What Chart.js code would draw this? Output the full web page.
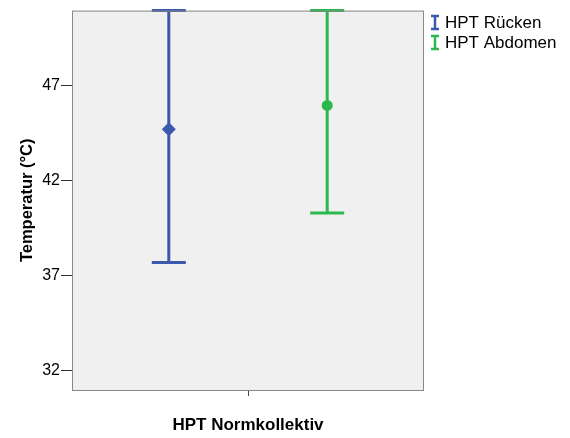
<!DOCTYPE html>
<html>
<head>
<meta charset="utf-8">
<script src="https://cdn.jsdelivr.net/npm/chart.js@4.4.0/dist/chart.umd.min.js"></script>
<style>
  html, body { margin: 0; padding: 0; background: #fff; }
</style>
</head>
<body>
<canvas id="chart" width="570" height="438"></canvas>
<script>
// data
const categories = ['HPT Normkollektiv'];
const seriesNames = ['HPT Rücken', 'HPT Abdomen'];
const meanValues = [44.7, 45.95];
const lowerValues = [37.7, 40.3];
const upperValues = [51.7, 51.6];   // run past the top of the axis
const yTicks = [32, 37, 42, 47];

const colors = ['#3d59ad', '#2cb84c'];
const markers = ['rectRot', 'circle'];
const FONT = 'Liberation Sans, Arial, sans-serif';

// error bars + mean markers, positioned on the grouped bar slots
const errorBars = {
    id: 'errorBars',
    afterDatasetsDraw(chart) {
        const ctx = chart.ctx;
        const y = chart.scales.y;
        const area = chart.chartArea;
        chart.data.datasets.forEach((ds, i) => {
            const meta = chart.getDatasetMeta(i);
            meta.data.forEach((bar, j) => {
                const x = bar.x;
                const yLo = y.getPixelForValue(Math.max(lowerValues[i], y.min));
                const yHi = y.getPixelForValue(Math.min(upperValues[i], y.max));
                const yMean = y.getPixelForValue(meanValues[i]);
                ctx.save();
                ctx.beginPath();
                ctx.rect(area.left, area.top - 2, area.right - area.left, area.bottom - area.top + 4);
                ctx.clip();
                ctx.strokeStyle = colors[i];
                ctx.lineWidth = 3;
                ctx.beginPath();
                ctx.moveTo(x, yLo);
                ctx.lineTo(x, yHi);
                ctx.moveTo(x - 17, yLo);
                ctx.lineTo(x + 17, yLo);
                ctx.moveTo(x - 17, yHi);
                ctx.lineTo(x + 17, yHi);
                ctx.stroke();
                ctx.fillStyle = colors[i];
                Chart.helpers.drawPoint(ctx, {
                    pointStyle: markers[i],
                    radius: markers[i] === 'rectRot' ? 7 : 5.5,
                    rotation: 0,
                    borderWidth: 0
                }, x, yMean);
                ctx.restore();
            });
        });
    }
};

// grey plot background, frame and the legend at the right
const frame = {
    id: 'frame',
    beforeDraw(chart) {
        const { ctx, chartArea: a } = chart;
        ctx.save();
        ctx.fillStyle = '#f0f0f0';
        ctx.fillRect(a.left, a.top, a.right - a.left, a.bottom - a.top);
        ctx.restore();
    },
    afterDraw(chart) {
        const { ctx, chartArea: a } = chart;
        ctx.save();
        ctx.strokeStyle = '#888888';
        ctx.lineWidth = 1;
        ctx.strokeRect(a.left + 0.5, a.top + 0.5, a.right - a.left - 1, a.bottom - a.top);

        // legend
        ctx.font = '17px ' + FONT;
        ctx.textBaseline = 'middle';
        seriesNames.forEach((name, i) => {
            const cy = 22.5 + i * 20;
            const cx = a.right + 11;
            ctx.strokeStyle = colors[i];
            ctx.lineWidth = 2.5;
            ctx.beginPath();
            ctx.moveTo(cx, cy - 6.5);
            ctx.lineTo(cx, cy + 6.5);
            ctx.moveTo(cx - 4, cy - 6.5);
            ctx.lineTo(cx + 4, cy - 6.5);
            ctx.moveTo(cx - 4, cy + 6.5);
            ctx.lineTo(cx + 4, cy + 6.5);
            ctx.stroke();
            ctx.fillStyle = '#000';
            ctx.fillText(name, cx + 10, cy + 1);
        });
        ctx.restore();
    }
};

const ctx = document.getElementById('chart').getContext('2d');
new Chart(ctx, {
    type: 'bar',
    data: {
        labels: categories,
        datasets: seriesNames.map((name, i) => ({
            label: name,
            data: [meanValues[i]],
            backgroundColor: 'rgba(0,0,0,0)',
            borderWidth: 0,
            categoryPercentage: 0.9,
            barPercentage: 1
        }))
    },
    options: {
        responsive: false,
        animation: false,
        events: [],
        devicePixelRatio: 1,
        layout: { padding: { top: 10, right: 146, bottom: 0, left: 0 } },
        plugins: {
            legend: { display: false },
            tooltip: { enabled: false }
        },
        scales: {
            x: {
                afterFit: s => { s.height = 48; },
                grid: { offset: false, drawOnChartArea: false, tickLength: 6, color: '#444' },
                border: { display: false },
                ticks: { display: false },
                title: {
                    display: true,
                    text: categories[0],
                    color: '#000',
                    font: { family: FONT, size: 17, weight: 'bold' },
                    padding: { top: 0, bottom: 2 }
                }
            },
            y: {
                min: 31,
                max: 50.93,
                afterBuildTicks: s => { s.ticks = yTicks.map(v => ({ value: v })); },
                afterFit: s => { s.width = 72; },
                grid: { drawOnChartArea: false, tickLength: 11, color: '#333' },
                border: { display: false },
                ticks: {
                    color: '#000',
                    padding: 1,
                    font: { family: FONT, size: 16 }
                },
                title: {
                    display: true,
                    text: 'Temperatur (°C)',
                    color: '#000',
                    font: { family: FONT, size: 16.5, weight: 'bold' },
                    padding: { top: 17.5, bottom: 0 }
                }
            }
        }
    },
    plugins: [errorBars, frame]
});
</script>
</body>
</html>
